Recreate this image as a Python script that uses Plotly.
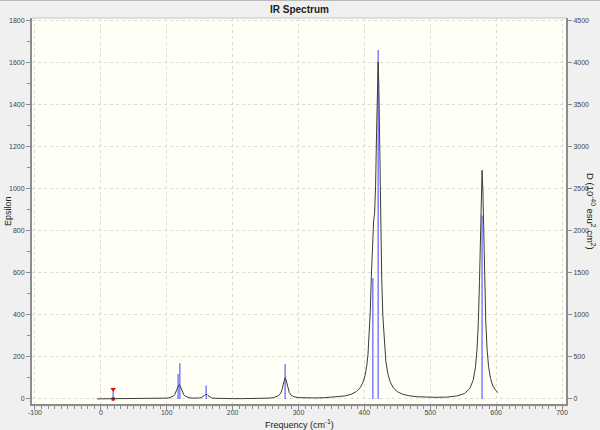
import plotly.graph_objects as go

# ---- data ----
stick_freq = [117.3, 119.9, 159.8, 279.7, 412.8, 420.9, 578.6]
stick_D = [297, 424, 160, 416, 1437, 4144, 2180]

selected_freq = [18.7]
selected_D = [115]

curve_freq = [-6, 5, 12, 16, 18.7, 21, 25, 35, 50, 70, 85, 95, 100, 105, 108, 110, 112, 114,
              115.5, 117, 118, 119, 120, 121, 122.5, 124, 126, 128, 131, 135, 140, 145, 150,
              153, 155, 157, 158.5, 159.8, 161, 162.5, 165, 168, 172, 180, 190, 200, 215, 230,
              245, 255, 262, 267, 270, 273, 275, 277, 278.5, 279.7, 281, 282.5, 284, 286, 289,
              293, 300, 310, 325, 340, 355, 370, 380, 388, 394, 398, 401, 403.5, 405.5, 407.5,
              409, 410.5, 411.8, 412.8, 414, 415.5, 417, 418.5, 419.8, 420.9, 422, 423.3, 424.7,
              426.3, 428, 430, 432.5, 435.5, 439, 444, 450, 458, 468, 480, 495, 510, 525, 540,
              552, 560, 565, 568.5, 571, 573, 574.7, 576, 577.3, 578.6, 579.9, 581.2, 582.5,
              584.2, 586.2, 588.5, 591.5, 595, 599, 603]
curve_eps = [0.4, 0.5, 0.9, 1.7, 2.3, 1.8, 1.0, 0.6, 0.6, 0.9, 1.5, 2.6, 3.8, 6.4, 9.7, 13.7,
             20.4, 32.2, 45.3, 59.1, 65.3, 67.6, 64.9, 57.4, 42.5, 29.9, 19.1, 13.0, 8.3, 5.3,
             3.9, 3.6, 4.8, 7.1, 10.4, 16.1, 21.2, 23.2, 21.4, 16.3, 9.3, 5.5, 3.3, 2.0, 1.5,
             1.4, 1.5, 1.9, 2.7, 4.0, 6.4, 10.7, 16.2, 28.0, 43.7, 70.5, 93.5, 101.8, 92.2,
             68.9, 48.2, 30.5, 17.5, 10.6, 6.3, 4.7, 4.8, 6.0, 8.6, 14.2, 22.3, 35.4, 55.1,
             79.7, 111.4, 155.5, 213.1, 308.3, 421.0, 577.1, 723.5, 804.7, 845.9, 882.4,
             1012.2, 1271.7, 1520.6, 1600.6, 1476.2, 1168.1, 840.8, 573.2, 395.1, 269.8,
             180.3, 120.8, 82.1, 52.6, 34.7, 22.4, 14.9, 10.5, 8.1, 7.6, 8.9, 13.7, 25.8,
             49.6, 87.9, 148.6, 236.9, 368.1, 557.7, 764.2, 982.8, 1086.5, 982.7, 764.1,
             557.6, 368.0, 236.8, 153.7, 96.6, 62.2, 41.5, 29.7]

x_ticks = [-100, 0, 100, 200, 300, 400, 500, 600, 700]
eps_ticks = [0, 200, 400, 600, 800, 1000, 1200, 1400, 1600, 1800]
d_ticks = [0, 500, 1000, 1500, 2000, 2500, 3000, 3500, 4000, 4500]

# ---- build ----
STICK = "#6b6bff"
TXT = "#444444"
AX = "#8c8c8c"
GRID = "#dadada"
FONT = "Liberation Sans"

sx, sy = [], []
for f, d in zip(stick_freq + selected_freq, stick_D + selected_D):
    sx += [f, f, None]
    sy += [0, d, None]

fig = go.Figure()
# sticks on the D axis (base layer, drawn below the curve)
fig.add_trace(go.Scatter(x=sx, y=sy, mode="lines", yaxis="y",
                         line=dict(color=STICK, width=1.3), hoverinfo="skip"))
fig.add_trace(go.Scatter(x=selected_freq, y=selected_D, mode="markers", yaxis="y",
                         marker=dict(symbol="triangle-down", size=5, color="#e01010")))
fig.add_trace(go.Scatter(x=selected_freq, y=[0] * len(selected_freq), mode="markers",
                         yaxis="y", marker=dict(symbol="circle", size=4, color="#e01010")))
# broadened spectrum on the Epsilon axis
fig.add_trace(go.Scatter(x=curve_freq, y=curve_eps, mode="lines", yaxis="y2",
                         line=dict(color="#3c3c3c", width=1)))

tickfont = dict(family=FONT, size=7, color=TXT)

fig.update_layout(
    width=600, height=430, autosize=False,
    margin=dict(l=32, r=34, t=18, b=26),
    paper_bgcolor="#f0f0f0", plot_bgcolor="#fffff6",
    showlegend=False,
    font=dict(family=FONT, color=TXT),
    xaxis=dict(range=[-104.5, 706], tickmode="array", tickvals=x_ticks,
               ticktext=[str(v) for v in x_ticks], ticklabelstandoff=-3,
               ticks="outside", ticklen=4, tickcolor=AX, tickfont=tickfont,
               showline=True, linecolor=AX, linewidth=2,
               showgrid=True, gridcolor=GRID, griddash="dot", gridwidth=1,
               zeroline=False, automargin=False,
               minor=dict(dtick=10, tick0=0, ticks="outside", ticklen=2.5,
                          tickcolor=AX, showgrid=False)),
    yaxis=dict(range=[-60, 4525], side="right", tickmode="array", tickvals=d_ticks,
               ticks="outside", ticklen=4, tickcolor=AX, tickfont=tickfont,
               showline=True, linecolor=AX, linewidth=2,
               showgrid=True, gridcolor=GRID, griddash="dot", gridwidth=1,
               zeroline=False, automargin=False),
    yaxis2=dict(range=[-24, 1810], side="left", overlaying="y", tickmode="array",
                tickvals=eps_ticks, ticks="outside", ticklen=4, tickcolor=AX,
                tickfont=tickfont, showline=True, linecolor=AX, linewidth=2,
                showgrid=False, zeroline=False, automargin=False,
                minor=dict(dtick=100, tick0=0, ticks="outside", ticklen=3,
                           tickcolor=AX, showgrid=False)),
    shapes=[
        dict(type="line", xref="paper", yref="paper", x0=0, x1=1, y0=1, y1=1,
             line=dict(color="#c4c4c4", width=1)),
        dict(type="line", xref="paper", yref="paper", x0=-0.06, x1=1.07,
             y0=1.0466, y1=1.0466, line=dict(color="#b8b8b8", width=2)),
    ],
    annotations=[
        dict(text="<b>IR Spectrum</b>", xref="paper", yref="paper", x=0.5, y=1,
             xanchor="center", yanchor="middle", yshift=9, showarrow=False,
             font=dict(family=FONT, size=10, color="#202020")),
        dict(text="Epsilon", xref="paper", yref="paper", x=0, y=0.5, xshift=-24,
             xanchor="center", yanchor="middle", textangle=-90, showarrow=False,
             font=dict(family=FONT, size=9, color="#202020")),
        dict(text="D (10<sup>-40</sup> esu<sup>2</sup> cm<sup>2</sup>)", xref="paper",
             yref="paper", x=1, y=0.5, xshift=25, xanchor="center", yanchor="middle",
             textangle=90, showarrow=False,
             font=dict(family=FONT, size=9.5, color="#202020")),
        dict(text="Frequency (cm<sup>-1</sup>)", xref="paper", yref="paper", x=0.5, y=0,
             yshift=-20, xanchor="center", yanchor="middle", showarrow=False,
             font=dict(family=FONT, size=9, color="#202020")),
    ],
)

fig.write_html("out.html", config={"displayModeBar": False},
               post_script="document.body.style.margin='0';document.body.style.padding='0';")
